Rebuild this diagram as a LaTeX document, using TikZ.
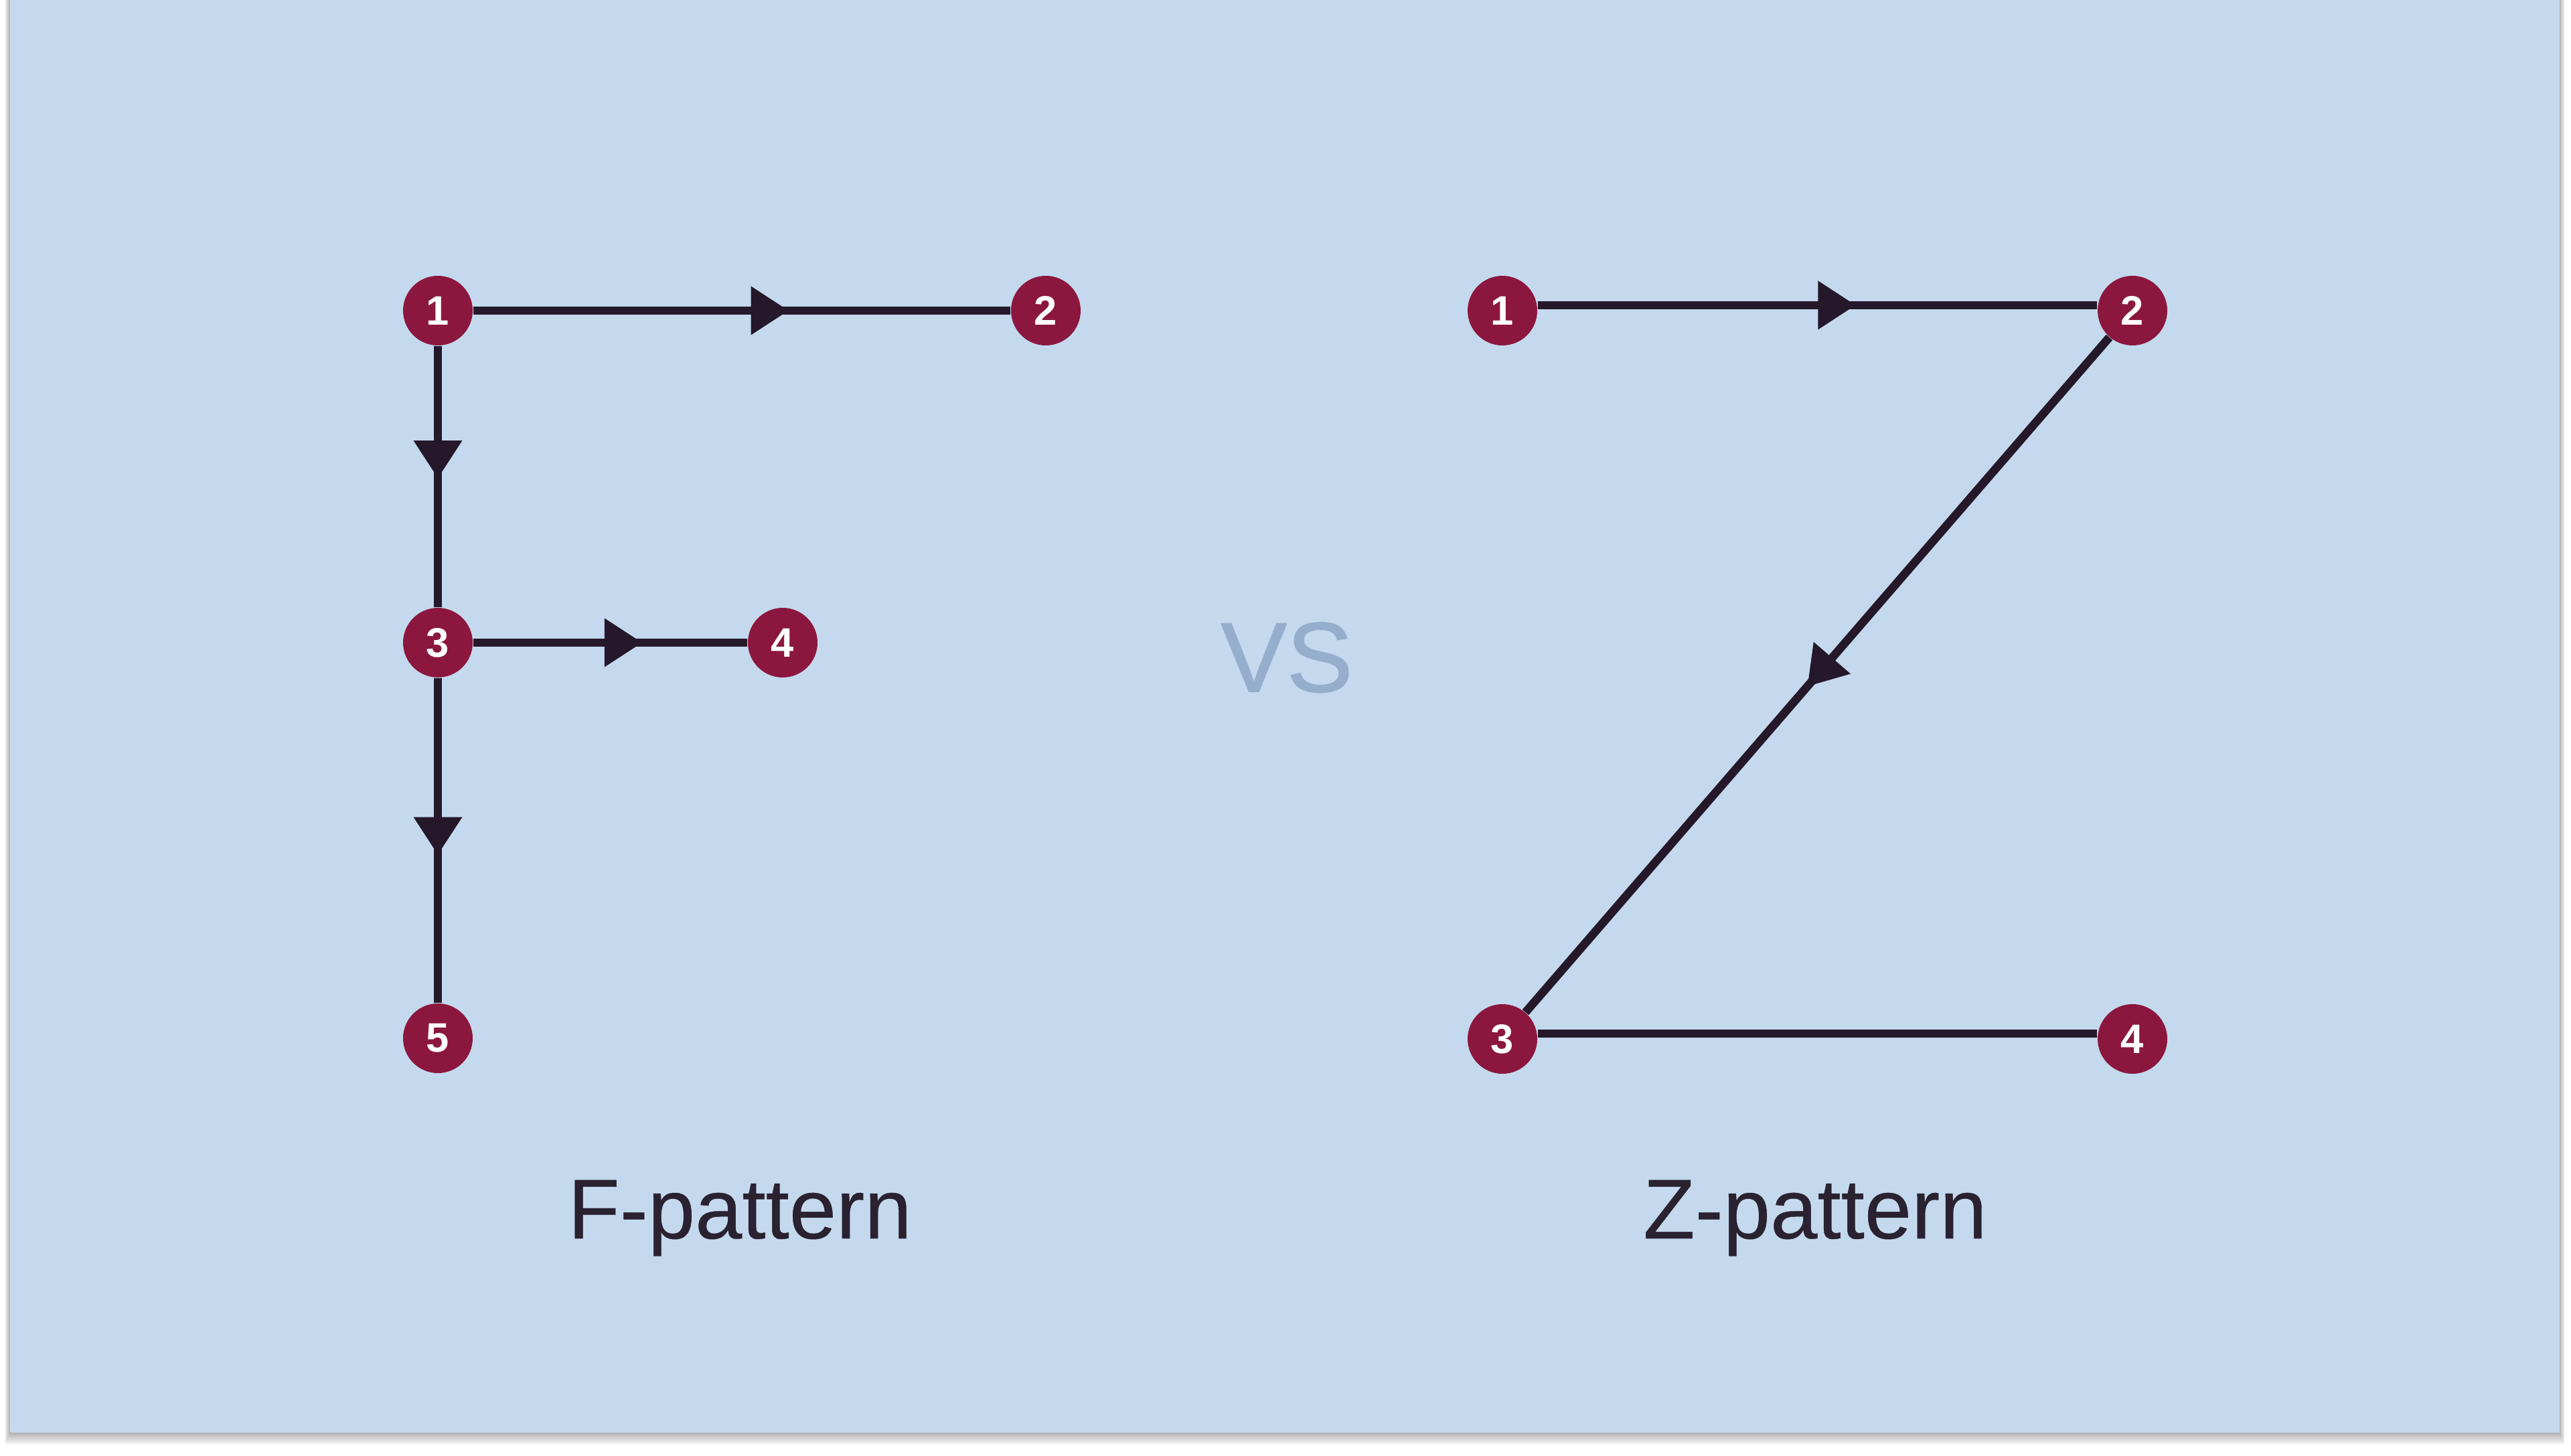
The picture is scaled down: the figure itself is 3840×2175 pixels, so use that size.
\documentclass[tikz,border=0pt]{standalone}
\usepackage{fontspec}
\setmainfont{Liberation Sans}
\newfontfamily\vsfont{Liberation Sans}[FakeBold=1.2]
\newfontfamily\titlefont{Liberation Sans}[FakeBold=0.35]
\usetikzlibrary{decorations.markings}
\definecolor{panel}{HTML}{C5D9EE}
\definecolor{nodered}{HTML}{8C173E}
\definecolor{edgec}{HTML}{25182B}
\definecolor{txt}{HTML}{2A2231}
\definecolor{vsc}{HTML}{94AECB}
\tikzset{
  pnode/.style={circle,fill=nodered,inner sep=0pt,minimum size=10.4mm,text=white,
    font=\fontsize{17.5}{17.5}\selectfont\bfseries},
  edge/.style={draw=edgec,line width=1.25mm},
  midarrow/.style={postaction={decorate},decoration={markings,
    mark=at position #1 with {\fill[edgec] (5.6mm,0) -- (0,3.65mm) -- (0,-3.65mm) -- cycle;}}},
  ptitle/.style={anchor=base,text=txt,font=\titlefont\fontsize{36}{36}\selectfont},
  vstext/.style={anchor=base,text=vsc,font=\vsfont\fontsize{42}{42}\selectfont},
}
\begin{document}
\begin{tikzpicture}[x=0.1mm,y=-0.1mm]
\useasboundingbox (0,0) rectangle (3840,2175);
\fill[white] (0,0) rectangle (3840,2175);
% shadow
\foreach \d in {2,4,...,20}{
  \fill[black,opacity=0.03] ({15-\d*0.4},0) rectangle ({3823+\d*0.4},{2140+\d*0.9});
}
\fill[panel] (15,0) rectangle (3823,2140);
% F pattern
\node[pnode] (f1) at (654,464) {1};
\node[pnode] (f2) at (1562,464) {2};
\node[pnode] (f3) at (654,960) {3};
\node[pnode] (f4) at (1169,960) {4};
\node[pnode] (f5) at (654,1551) {5};
\draw[edge,midarrow=0.517] (f1) -- (f2);
\draw[edge,midarrow=0.362] (f1) -- (f3);
\draw[edge,midarrow=0.479] (f3) -- (f4);
\draw[edge,midarrow=0.428] (f3) -- (f5);
% Z pattern
\node[pnode] (z1) at (2244,464) {1};
\node[pnode] (z2) at (3185,464) {2};
\node[pnode] (z3) at (2244,1552) {3};
\node[pnode] (z4) at (3185,1552) {4};
\draw[edge,midarrow=0.501] ([yshift=2.3pt]z1.east) -- ([yshift=2.3pt]z2.west);
\draw[edge,midarrow=0.475] (z2) -- (z3);
\draw[edge] ([yshift=2.3pt]z3.east) -- ([yshift=2.3pt]z4.west);
% texts
\node[vstext] (vs) at (1922,1033) {VS};
\node[ptitle] (ft) at (1105,1850) {F-pattern};
\node[ptitle] (zt) at (2711,1850) {Z-pattern};
\end{tikzpicture}
\end{document}
